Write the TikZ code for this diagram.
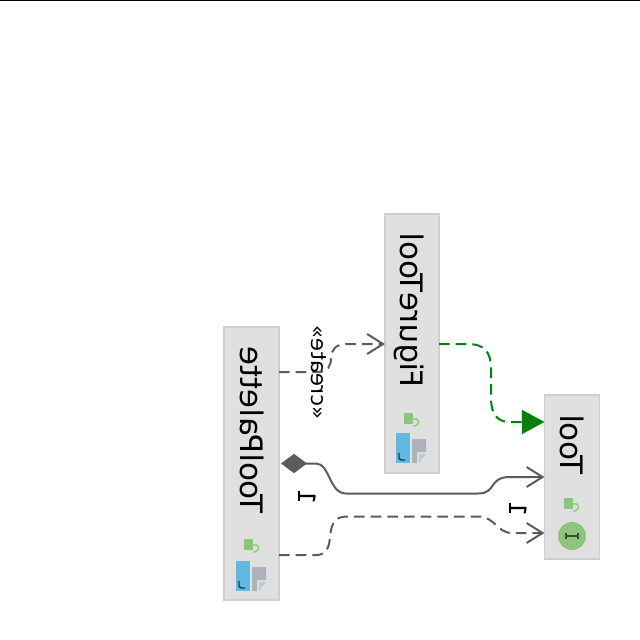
\documentclass[tikz,border=0pt]{standalone}
\usepackage{fontspec}
\setmainfont{DejaVu Sans}
\usetikzlibrary{arrows.meta}
\definecolor{boxfill}{HTML}{E0E0E0}
\definecolor{boxedge}{HTML}{CFCFCF}
\definecolor{wire}{HTML}{5C5C5C}
\definecolor{realize}{HTML}{0B7D0B}
\definecolor{leaf}{HTML}{8CC67C}
\definecolor{sky}{HTML}{62B8E0}
\definecolor{sheet}{HTML}{ADB1B8}
\tikzset{
  x=0.75pt, y=-0.75pt,
  classbox/.style={draw=boxedge, line width=1.1pt, fill=boxfill, inner sep=0pt, outer sep=0pt},
  mirrored/.style={cm={0,1,1,0,(0,0)}, transform shape, inner sep=0pt, text=black},
  title/.style={mirrored, anchor=base, font=\fontsize{23.2}{24}\selectfont},
  tag/.style={mirrored, anchor=base, font=\fontsize{16}{18}\selectfont},
  count/.style={mirrored, anchor=base, font=\fontsize{18}{20}\selectfont},
  wireline/.style={draw=wire, line width=1.5pt},
  dashline/.style={wireline, dash pattern=on 8pt off 4.5pt},
  openhead/.style={-{Straight Barb[length=12pt,width=15pt,line width=1.5pt]}},
}
% class badge: green square with a hook, at the given top-left corner
\newcommand{\classmark}[2]{%
  \fill[leaf] (#1,#2) rectangle ++(9,11);
  \draw[leaf, line width=1pt] (#1+9,#2+6) .. controls (#1+15,#2+4) and (#1+17,#2+11) .. (#1+11,#2+13) -- (#1+9,#2+13);
}
% file badge: blue strip with a dark hook, and a grey sheet with a folded corner
\newcommand{\filemark}[2]{%
  \fill[sky] (#1,#2) rectangle ++(14,30);
  \draw[black!70!sky, line width=1pt] (#1+3,#2+20) -- (#1+3,#2+25) .. controls (#1+3,#2+27) and (#1+5,#2+27) .. (#1+9,#2+27);
  \fill[sheet] (#1+16,#2+6) -- (#1+30,#2+6) -- (#1+30,#2+19) -- (#1+21,#2+19) -- (#1+21,#2+30) -- (#1+16,#2+30) -- cycle;
  \fill[sheet!75] (#1+30,#2+21) -- (#1+23,#2+30) -- (#1+23,#2+21) -- cycle;
}
\begin{document}
\begin{tikzpicture}
  \useasboundingbox (0,0) rectangle (640,640);
  \fill[white] (0,0) rectangle (640,640);
  \fill[black] (0,0) rectangle (640,1.2);

  % class boxes
  \node[classbox, minimum width=41.25pt, minimum height=204.75pt] (palette) at (251.5,463.5) {};
  \node[classbox, minimum width=40.5pt, minimum height=194.25pt] (figure) at (412,343.5) {};
  \node[classbox, minimum width=41.25pt, minimum height=123pt] (tool) at (572,477) {};

  % class names
  \node[title] (paletteName) at (240,430) {ToolPalette};
  \node[title] (figureName) at (400,310) {FigureTool};
  \node[title] (toolName) at (560,444.5) {Tool};

  % badges
  \classmark{244}{539}
  \filemark{236}{561}
  \classmark{404}{413}
  \filemark{396}{433}
  \classmark{564}{498}
  \node[circle, fill=leaf, minimum size=21pt, inner sep=0pt] (iface) at (572,536) {};
  \draw[black!60!leaf, line width=0.9pt] (566,536) -- (578,536)
    (566,533) -- (566,539) (578,533) -- (578,539);

  % connectors
  \draw[dashline, openhead] (palette.east |- 0,372) -- (318,372)
    .. controls (328,372) and (331,366) .. (331,358)
    .. controls (331,350) and (336,344) .. (346,344) -- (figure.west |- 0,344);
  \draw[wireline, {Diamond[length=19.5pt,width=14.5pt,fill=wire]}-{Straight Barb[length=12pt,width=15pt,line width=1.5pt]}]
    ([xshift=1.5pt]palette.east |- 0,463.5) -- (316,463.5)
    .. controls (330,463.5) and (329,493.5) .. (346,493.5) -- (478,493.5)
    .. controls (497,493.5) and (488,477) .. (510,477) -- (tool.west |- 0,477);
  \draw[dashline, openhead] (palette.east |- 0,555) -- (316,555)
    .. controls (331,555) and (329,540) .. (331,530)
    .. controls (333,520) and (338,516.5) .. (348,516.5) -- (478,516.5)
    .. controls (495,516.5) and (497,533) .. (512,533) -- (tool.west |- 0,533);
  \draw[draw=realize, line width=1.5pt, dash pattern=on 8pt off 4.5pt,
        -{Triangle[length=17pt,width=18pt,fill=realize]}]
    (figure.east |- 0,344) -- (468,344)
    .. controls (484,344) and (491,352) .. (491,368) -- (491,398)
    .. controls (491,414) and (497,422) .. (510,422) -- (tool.west |- 0,422);

  % connector labels
  \node[tag] (createTag) at (311,372.5) {«create»};
  \node[count] (oneA) at (298,497) {1};
  \node[count] (oneB) at (509,509) {1};
\end{tikzpicture}
\end{document}
